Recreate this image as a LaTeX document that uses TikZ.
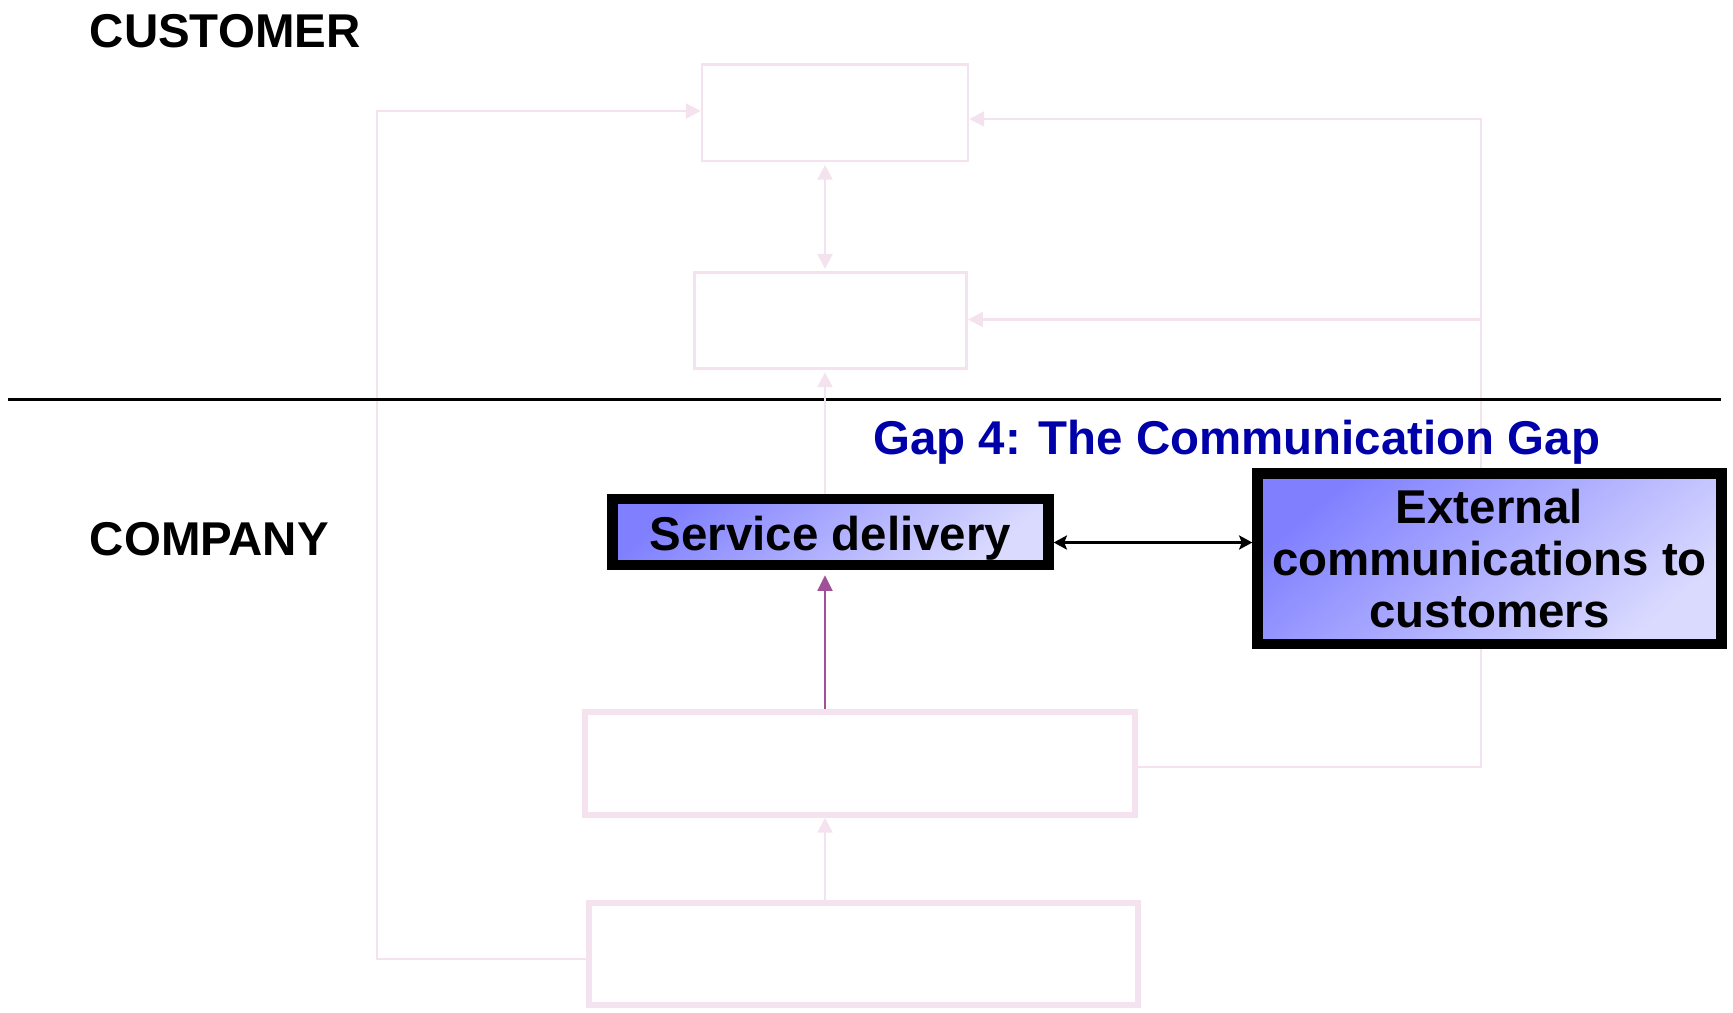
\documentclass[tikz,border=0pt]{standalone}
\usepackage{fontspec}
\setmainfont{Liberation Sans}
\usetikzlibrary{arrows.meta,calc}
\definecolor{pinkln}{RGB}{244,226,239}
\definecolor{purpln}{RGB}{160,80,150}
\definecolor{gapblue}{RGB}{0,0,170}
\definecolor{gradA}{RGB}{128,128,255}
\definecolor{gradB}{RGB}{218,218,255}
\tikzset{
  bigfont/.style={font=\bfseries\fontsize{27pt}{29.6pt}\selectfont},
  palebox/.style={draw=pinkln, line width=1.42pt, fill=white, inner sep=0pt, rectangle},
  palethick/.style={draw=pinkln, line width=3.13pt, fill=white, inner sep=0pt, rectangle},
  keybox/.style={draw=black, line width=5.98pt, inner sep=0pt, rectangle, bigfont,
     top color=gradA, bottom color=gradB, shading angle=40, align=center},
  paleline/.style={draw=pinkln, line width=1.42pt},
  pinktip/.style={-{Triangle[length=8.5pt,width=8.5pt]}},
  pinktwo/.style={{Triangle[length=8.5pt,width=8.5pt]}-{Triangle[length=8.5pt,width=8.5pt]}},
  blacktwo/.style={draw=black, line width=1.6pt, {Stealth[length=7.5pt,width=8pt,inset=1.5pt]}-{Stealth[length=7.5pt,width=8pt,inset=1.5pt]}},
  purparrow/.style={draw=purpln, line width=1.5pt, -{Triangle[length=9pt,width=8.5pt]}},
  label/.style={bigfont, inner sep=0pt}
}
\begin{document}
\begin{tikzpicture}[x=0.02cm,y=-0.02cm]
\useasboundingbox (0,0) rectangle (1733,1012);

% boxes (pale)
\node[palebox, minimum width=5.32cm, minimum height=1.94cm] (A) at (835,112.75) {};
\node[palebox, minimum width=5.45cm, minimum height=1.92cm] (B) at (830.5,320.25) {};
\node[palethick, minimum width=11cm, minimum height=2.065cm] (C) at (860,763.4) {};
\node[palethick, minimum width=10.99cm, minimum height=2.04cm] (D) at (863.5,954) {};

% coordinates for connector routes
\coordinate (vx) at (825,0);
\coordinate (L1) at (377,959);
\coordinate (L2) at (377,111);
\coordinate (R1) at (1481,767);
\coordinate (R2) at (1481,119);
\coordinate (R3) at (1481,319.5);
\coordinate (hy) at (0,542.5);
\coordinate (HL) at (8,399.3);
\coordinate (HR) at (1720.7,399.3);

% pale connectors
\draw[paleline, pinktip] (D.west |- L1) -- (L1) -- (L2) -- (L2 -| A.west);
\draw[paleline, pinktip] (C.east |- R1) -- (R1) -- (R2) -- (R2 -| A.east);
\draw[paleline, pinktip] (R3) -- (R3 -| B.east);
\draw[paleline, pinktwo, shorten <=1.3pt, shorten >=1.2pt] (A.south -| vx) -- (B.north -| vx);
\draw[paleline, pinktip] (D.north -| vx) -- (C.south -| vx);

% divider
\draw[line width=1.7pt] (HL) -- (HR);

% key boxes
\node[keybox, minimum width=8.72cm, minimum height=1.32cm, text height=23pt, text depth=2.5pt] (SD) at (830.5,532) {Service delivery};
\node[keybox, minimum width=9.28cm, minimum height=3.41cm] (EXT) at (1489.5,558.75) {External\\communications to\\customers};

\draw[paleline, pinktip, shorten >=1.6pt] (SD.north -| vx) -- (B.south -| vx);
\draw[purparrow, shorten >=2.8pt] (C.north -| vx) -- (SD.south -| vx);
\draw[blacktwo] (SD.east |- hy) -- (EXT.west |- hy);

% labels
\node[label, anchor=base west] (cust) at (89.5,47.7) {CUSTOMER};
\node[label, anchor=base west] (comp) at (89.5,555) {COMPANY};
\node[label, text=gapblue, anchor=base] (gap) at (1236.8,454) {Gap 4: The Communication Gap};
\end{tikzpicture}
\end{document}
